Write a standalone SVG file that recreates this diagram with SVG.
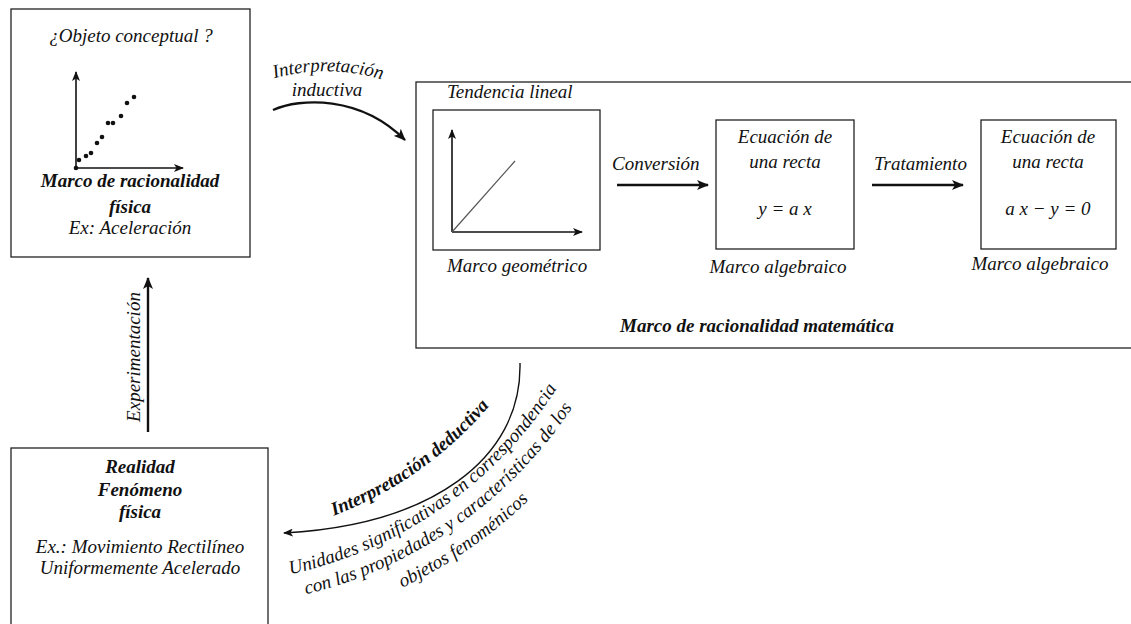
<svg xmlns="http://www.w3.org/2000/svg" width="1131" height="624" viewBox="0 0 1131 624">
<style>
.t{font-family:"Liberation Serif","Times New Roman",serif;font-style:italic;font-size:19px;fill:#111}
.b{font-weight:bold}
.box{fill:#fff;stroke:#222;stroke-width:1.3}
.ln{stroke:#111;stroke-width:2.4;fill:none}
.thin{stroke:#111;stroke-width:1.4;fill:none}
.ax{stroke:#111;stroke-width:1.6;fill:none}
.dot{fill:#111}
</style>
<defs>
<marker id="ah" markerUnits="userSpaceOnUse" viewBox="0 0 12 10" refX="11" refY="5" markerWidth="12" markerHeight="10" orient="auto">
<path d="M0,0 L12,5 L0,10 L3,5 Z" fill="#111"/>
</marker>
<marker id="as" markerUnits="userSpaceOnUse" viewBox="0 0 10 8" refX="9" refY="4" markerWidth="10" markerHeight="8" orient="auto">
<path d="M0,0 L10,4 L0,8 L2.5,4 Z" fill="#111"/>
</marker>
<path id="pInd" d="M 272 79 Q 327 63 384 80"/>
<path id="pDed" d="M 333.7 515.7 A 380 380 0 0 0 499 394"/>
<path id="pU1" d="M 290.3 574.3 A 424 424 0 0 0 574 359"/>
<path id="pU2" d="M 306 594.3 A 447 447 0 0 0 594.7 369.9"/>
<path id="pU3" d="M 402.2 587.6 A 473 473 0 0 0 609.6 396.5"/>
</defs>
<rect width="1131" height="624" fill="#fff"/>

<g id="math-frame">
<rect class="box" x="416" y="82" width="740" height="266"/>
<text class="t b" x="620" y="332">Marco de racionalidad matemática</text>
</g>

<g id="physical-frame">
<rect class="box" x="11" y="9" width="239" height="248"/>
<text class="t" x="131" y="42" text-anchor="middle">¿Objeto conceptual ?</text>
<path class="ax" d="M76 168 V72" marker-end="url(#as)"/>
<path class="ax" d="M76 168 H183" marker-end="url(#as)"/>
<circle class="dot" cx="76" cy="168" r="2.3"/>
<circle class="dot" cx="79" cy="160" r="2.3"/>
<circle class="dot" cx="86" cy="156" r="2.3"/>
<circle class="dot" cx="91" cy="153" r="2.3"/>
<circle class="dot" cx="97" cy="143" r="2.3"/>
<circle class="dot" cx="102" cy="137" r="2.3"/>
<circle class="dot" cx="108" cy="123" r="2.3"/>
<circle class="dot" cx="113" cy="123" r="2.3"/>
<circle class="dot" cx="121" cy="116" r="2.3"/>
<circle class="dot" cx="127" cy="103" r="2.3"/>
<circle class="dot" cx="134" cy="97" r="2.3"/>
<text class="t b" x="130" y="187" text-anchor="middle">Marco de racionalidad</text>
<text class="t b" x="130" y="213" text-anchor="middle">física</text>
<text class="t" x="130" y="234" text-anchor="middle">Ex: Aceleración</text>
</g>

<g id="phenomenon">
<rect class="box" x="11" y="448" width="257" height="200"/>
<text class="t b" x="140" y="473" text-anchor="middle">Realidad</text>
<text class="t b" x="140" y="496" text-anchor="middle">Fenómeno</text>
<text class="t b" x="140" y="518" text-anchor="middle">física</text>
<text class="t" x="140" y="553" text-anchor="middle">Ex.: Movimiento Rectilíneo</text>
<text class="t" x="140" y="574" text-anchor="middle">Uniformemente Acelerado</text>
</g>

<g id="geometric">
<text class="t" x="447" y="98">Tendencia lineal</text>
<rect class="box" x="433" y="110" width="167" height="140"/>
<path class="ax" d="M452 232 V130" marker-end="url(#as)"/>
<path class="ax" d="M452 232 H582" marker-end="url(#as)"/>
<path d="M452 232 L515 161" stroke="#555" stroke-width="1.2" fill="none"/>
<text class="t" x="447" y="272">Marco geométrico</text>
</g>

<g id="algebraic-1">
<rect class="box" x="716" y="120" width="138" height="129"/>
<text class="t" x="785" y="143" text-anchor="middle">Ecuación de</text>
<text class="t" x="785" y="168" text-anchor="middle">una recta</text>
<text class="t" x="785" y="215" text-anchor="middle">y = a x</text>
<text class="t" x="778" y="273" text-anchor="middle">Marco algebraico</text>
</g>

<g id="algebraic-2">
<rect class="box" x="981" y="120" width="135" height="129"/>
<text class="t" x="1048" y="143" text-anchor="middle">Ecuación de</text>
<text class="t" x="1048" y="168" text-anchor="middle">una recta</text>
<text class="t" x="1048" y="215" text-anchor="middle">a x − y = 0</text>
<text class="t" x="1040" y="270" text-anchor="middle">Marco algebraico</text>
</g>

<g id="connectors">
<path class="ln" d="M273 110 C300 98, 360 95, 405 140" marker-end="url(#ah)"/>
<text class="t"><textPath href="#pInd" startOffset="50%" text-anchor="middle">Interpretación</textPath></text>
<text class="t" x="327" y="96" text-anchor="middle">inductiva</text>

<path class="ln" d="M617 185 H708" marker-end="url(#ah)"/>
<text class="t" x="612" y="170">Conversión</text>

<path class="ln" d="M872 185 H963" marker-end="url(#ah)"/>
<text class="t" x="874" y="170">Tratamiento</text>

<path class="ln" d="M148 432 V278" marker-end="url(#ah)"/>
<text class="t" transform="translate(140 357) rotate(-90)" text-anchor="middle">Experimentación</text>

<path class="thin" d="M520 363 C522 460, 430 525, 284 533" marker-end="url(#as)"/>
<text class="t b"><textPath href="#pDed">Interpretación deductiva</textPath></text>
<text class="t"><textPath href="#pU1">Unidades significativas en correspondencia</textPath></text>
<text class="t"><textPath href="#pU2">con las propiedades y características de los</textPath></text>
<text class="t"><textPath href="#pU3">objetos fenoménicos</textPath></text>
</g>
</svg>
